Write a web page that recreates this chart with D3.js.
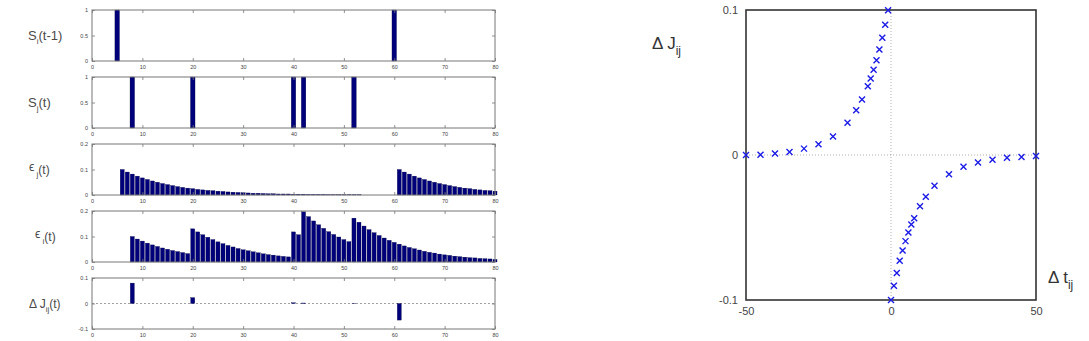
<!DOCTYPE html>
<html><head><meta charset="utf-8">
<script src="https://cdn.jsdelivr.net/npm/d3@7"></script>
<style>body{margin:0;background:#fff}svg{display:block}text{font-family:"Liberation Sans",Arial,sans-serif}</style>
</head><body>
<svg id="c" width="1089" height="341"></svg>
<script>
// ---------- data ----------
const timeTicks = [0,10,20,30,40,50,60,70,80];
const preSpikeTimes = [5, 60];                 // S_i(t-1)
const postSpikeTimes = [8, 20, 40, 42, 52];     // S_j(t)
// epsilon_j(t), t = 0..80
const epsJ = [0,0,0,0,0,0,
  0.100,0.090,0.082,0.074,0.067,0.061,0.055,0.050,0.045,0.041,
  0.037,0.033,0.030,0.027,0.025,0.022,0.020,0.018,0.017,0.015,
  0.014,0.012,0.011,0.010,0.009,0.008,0.007,0.007,0.006,0.005,
  0.005,0.004,0.004,0.004,0.003,0.003,0.003,0.002,0.002,0.002,
  0.002,0.001,0.001,0.001,0.001,0.001,0.001,0.001,0,0,0,0,0,0,0,
  0.100,0.090,0.082,0.074,0.067,0.061,0.055,0.050,0.045,0.041,
  0.037,0.033,0.030,0.027,0.025,0.022,0.020,0.018,0.017,0.015];
// epsilon_i(t), t = 0..80
const epsI = [0,0,0,0,0,0,0,0,
  0.100,0.090,0.082,0.074,0.067,0.061,0.055,0.050,0.045,0.041,0.037,0.033,
  0.130,0.118,0.107,0.097,0.088,0.079,0.072,0.065,0.059,0.053,
  0.048,0.044,0.040,0.036,0.032,0.029,0.027,0.024,0.022,0.020,
  0.118,0.107,
  0.197,0.178,0.161,0.146,0.132,0.119,0.108,0.098,0.088,0.080,
  0.172,0.156,0.141,0.127,0.115,0.104,0.094,0.085,0.077,0.070,
  0.063,0.057,0.052,0.047,0.042,0.038,0.035,0.031,0.028,0.026,
  0.023,0.021,0.019,0.017,0.016,0.014,0.013,0.012,0.010];
const dJTimes = [8, 20, 40, 42, 52, 61];
const dJValues = [0.080, 0.023, 0.003, 0.002, 0.001, -0.065];

// STDP window (right panel)
const ltpDt = [-50,-45,-40,-35,-30,-25,-20,-15,-12,-10,-8,-7,-6,-5,-4,-3,-2,-1];
const ltpDJ = [0.0,0.0002,0.001,0.002,0.0044,0.0074,0.0127,0.0222,0.0308,0.0382,0.0474,0.0528,0.0588,0.0653,0.0727,0.0808,0.0898,0.0998];
const ltdDt = [0,1,2,3,4,5,6,7,8,10,12,15,20,25,30,35,40,45,50];
const ltdDJ = [-0.1,-0.0902,-0.0813,-0.073,-0.0658,-0.0594,-0.0534,-0.048,-0.0436,-0.0354,-0.0288,-0.0212,-0.0132,-0.0081,-0.0051,-0.0032,-0.0019,-0.0014,-0.0007];
const stdpXTicks = [-50, 0, 50];
const stdpYTicks = [-0.1, 0, 0.1];

// ---------- drawing ----------
const svg = d3.select("#c");
const barColor = "#00007a";
const x = d3.scaleLinear().domain([0,80]).range([92,495]);

const panels = [
  {top:10, domain:[0,1], ticks:[0,0.5,1], fmt:d=>d===0.5?"0.5":String(d),
   bars: preSpikeTimes.map(t=>({t,v:1})), w:0.9,
   label:[["S",0,13],["i",4,8],["(t-1)",-4,13]], lx:28},
  {top:77, domain:[0,1], ticks:[0,0.5,1], fmt:d=>d===0.5?"0.5":String(d),
   bars: postSpikeTimes.map(t=>({t,v:1})), w:0.9,
   label:[["S",0,13],["j",4,8],["(t)",-4,13]], lx:28},
  {top:144, domain:[0,0.2], ticks:[0,0.1,0.2], fmt:d=>d===0?"0":String(d),
   bars: epsJ.map((v,t)=>({t,v})).filter(d=>d.v>0), w:0.8,
   label:[["\u03F5",-3,12],[" j",6,8],["(t)",-3,12]], lx:29},
  {top:211, domain:[0,0.2], ticks:[0,0.1,0.2], fmt:d=>d===0?"0":String(d),
   bars: epsI.map((v,t)=>({t,v})).filter(d=>d.v>0), w:0.8,
   label:[["\u03F5",-3,12],[" i",6,8],["(t)",-3,12]], lx:35},
  {top:278, domain:[-0.1,0.1], ticks:[-0.1,0,0.1], fmt:d=>d===0?"0":String(d),
   bars: dJTimes.map((t,i)=>({t,v:dJValues[i]})), w:0.8, zeroLine:true,
   label:[["\u0394 J",0,12],["ij",4,8],["(t)",-4,12]], lx:29}
];
const ph = 51;

panels.forEach(p=>{
  const y = d3.scaleLinear().domain(p.domain).range([p.top+ph, p.top]);
  const g = svg.append("g");
  if (p.zeroLine) {
    g.append("line").attr("x1",x(0)).attr("x2",x(80)).attr("y1",y(0)).attr("y2",y(0))
      .attr("stroke","#888").attr("stroke-width",0.8).attr("stroke-dasharray","2,2");
  }
  const base = Math.max(p.domain[0],0);
  g.selectAll("rect").data(p.bars).join("rect")
    .attr("x",d=>x(d.t-p.w/2)).attr("width",d=>x(p.w)-x(0))
    .attr("y",d=>y(Math.max(d.v,base))).attr("height",d=>Math.abs(y(d.v)-y(base)))
    .attr("fill",barColor).attr("stroke","#000040").attr("stroke-width",0.3);
  g.append("rect").attr("x",x(0)).attr("y",p.top).attr("width",x(80)-x(0)).attr("height",ph)
    .attr("fill","none").attr("stroke","#777").attr("stroke-width",1);
  const xb = d3.axisBottom(x).tickValues(timeTicks).tickSizeInner(-3).tickSizeOuter(0).tickPadding(4);
  const gx = g.append("g").attr("transform",`translate(0,${p.top+ph})`).call(xb);
  const xt = d3.axisTop(x).tickValues(timeTicks).tickSizeInner(-3).tickSizeOuter(0).tickFormat("");
  const gxt = g.append("g").attr("transform",`translate(0,${p.top})`).call(xt);
  const yl = d3.axisLeft(y).tickValues(p.ticks).tickSizeInner(-3).tickSizeOuter(0).tickPadding(4).tickFormat(p.fmt);
  const gy = g.append("g").attr("transform",`translate(${x(0)},0)`).call(yl);
  const yr = d3.axisRight(y).tickValues(p.ticks).tickSizeInner(-3).tickSizeOuter(0).tickFormat("");
  const gyr = g.append("g").attr("transform",`translate(${x(80)},0)`).call(yr);
  [gx,gxt,gy,gyr].forEach(a=>{
    a.select(".domain").remove();
    a.selectAll("line").attr("stroke","#777").attr("stroke-width",0.8);
    a.selectAll("text").attr("font-size",5.5).attr("fill","#444");
  });
  const t = svg.append("text").attr("x",p.lx).attr("y",p.top+ph/2+4)
    .attr("fill","#4a4a4a");
  p.label.forEach(([s,dy,fs])=>{
    t.append("tspan").attr("font-size",fs).attr("dy",dy).text(s);
  });
});

// ---------- right panel ----------
const xs = d3.scaleLinear().domain([-50,50]).range([746,1036]);
const ys = d3.scaleLinear().domain([-0.1,0.1]).range([300,10]);
const rg = svg.append("g");
rg.append("line").attr("x1",xs(0)).attr("x2",xs(0)).attr("y1",ys(0.1)).attr("y2",ys(-0.1))
  .attr("stroke","#999").attr("stroke-width",0.8).attr("stroke-dasharray","1,2");
rg.append("line").attr("x1",xs(-50)).attr("x2",xs(50)).attr("y1",ys(0)).attr("y2",ys(0))
  .attr("stroke","#999").attr("stroke-width",0.8).attr("stroke-dasharray","1,2");
rg.append("rect").attr("x",xs(-50)).attr("y",ys(0.1)).attr("width",xs(50)-xs(-50)).attr("height",ys(-0.1)-ys(0.1))
  .attr("fill","none").attr("stroke","#333").attr("stroke-width",1.6);

const pts = ltpDt.map((d,i)=>({x:d,y:ltpDJ[i]})).concat(ltdDt.map((d,i)=>({x:d,y:ltdDJ[i]})));
const m = 3;
rg.selectAll("path.mk").data(pts).join("path").attr("class","mk")
  .attr("d",d=>{const cx=xs(d.x), cy=ys(d.y);
    return `M${cx-m},${cy-m}L${cx+m},${cy+m}M${cx-m},${cy+m}L${cx+m},${cy-m}`;})
  .attr("stroke","#1a1ae6").attr("stroke-width",1.4).attr("fill","none");

const axB = d3.axisBottom(xs).tickValues(stdpXTicks).tickSize(0).tickPadding(7).tickFormat(d=>String(d));
const gB = rg.append("g").attr("transform",`translate(0,${ys(-0.1)})`).call(axB);
const axL = d3.axisLeft(ys).tickValues(stdpYTicks).tickSize(0).tickPadding(8).tickFormat(d=>d===0?"0":String(d));
const gL = rg.append("g").attr("transform",`translate(${xs(-50)},0)`).call(axL);
[gB,gL].forEach(a=>{a.select(".domain").remove();
  a.selectAll("text").attr("font-size",11).attr("fill","#444");});

const lj = svg.append("text").attr("x",652).attr("y",49).attr("font-size",17).attr("fill","#333");
lj.append("tspan").text("\u0394 J");
lj.append("tspan").attr("font-size",12).attr("dy",6).text("ij");
const lt = svg.append("text").attr("x",1048).attr("y",283).attr("font-size",17).attr("fill","#333");
lt.append("tspan").text("\u0394 t");
lt.append("tspan").attr("font-size",12).attr("dy",6).text("ij");
</script>
</body></html>
